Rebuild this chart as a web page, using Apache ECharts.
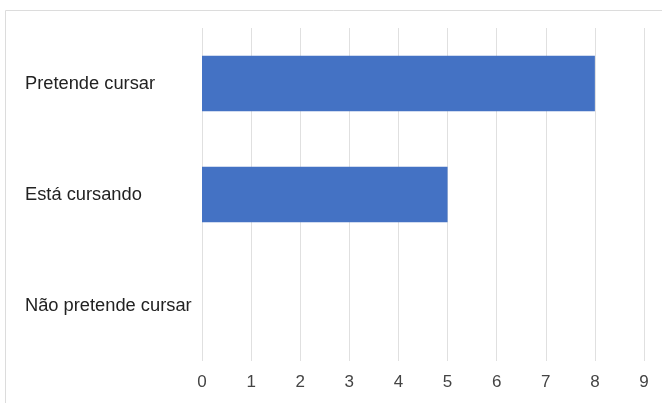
<!DOCTYPE html>
<html>
<head>
<meta charset="utf-8">
<script src="https://cdn.jsdelivr.net/npm/echarts@6/dist/echarts.min.js"></script>
<style>
  html, body { margin: 0; padding: 0; background: #fff; }
  #chart { width: 662px; height: 403px; }
</style>
</head>
<body>
<div id="chart"></div>
<script>
// Categories listed bottom-to-top (category axis on y starts at the bottom)
const categories = ['Não pretende cursar', 'Está cursando', 'Pretende cursar'];
const counts = [0, 5, 8];
const xTicks = [0, 1, 2, 3, 4, 5, 6, 7, 8, 9];

const chart = echarts.init(document.getElementById('chart'));
chart.setOption({
  animation: false,
  backgroundColor: '#fff',
  textStyle: { fontFamily: 'Liberation Sans, Arial, sans-serif' },
  graphic: [
    {
      type: 'polyline',
      silent: true,
      shape: { points: [[5.5, 403], [5.5, 10.5], [662, 10.5]] },
      style: { stroke: '#dcdcdc', lineWidth: 1, fill: null }
    }
  ],
  grid: { left: 202, right: 18, top: 28, bottom: 42, containLabel: false },
  xAxis: {
    type: 'value',
    min: xTicks[0],
    max: xTicks[xTicks.length - 1],
    interval: 1,
    axisLine: { show: false },
    axisTick: { show: false },
    splitLine: { show: true, lineStyle: { color: '#e0e0e0', width: 1 } },
    axisLabel: { color: '#444', fontSize: 17, margin: 13 }
  },
  yAxis: {
    type: 'category',
    data: categories,
    axisLine: { show: false },
    axisTick: { show: false },
    splitLine: { show: false },
    axisLabel: { color: '#222', fontSize: 18.3, align: 'left', margin: 177 }
  },
  series: [
    {
      type: 'bar',
      data: counts,
      barWidth: '50%',
      itemStyle: { color: '#4472c4' }
    }
  ]
});
</script>
</body>
</html>
